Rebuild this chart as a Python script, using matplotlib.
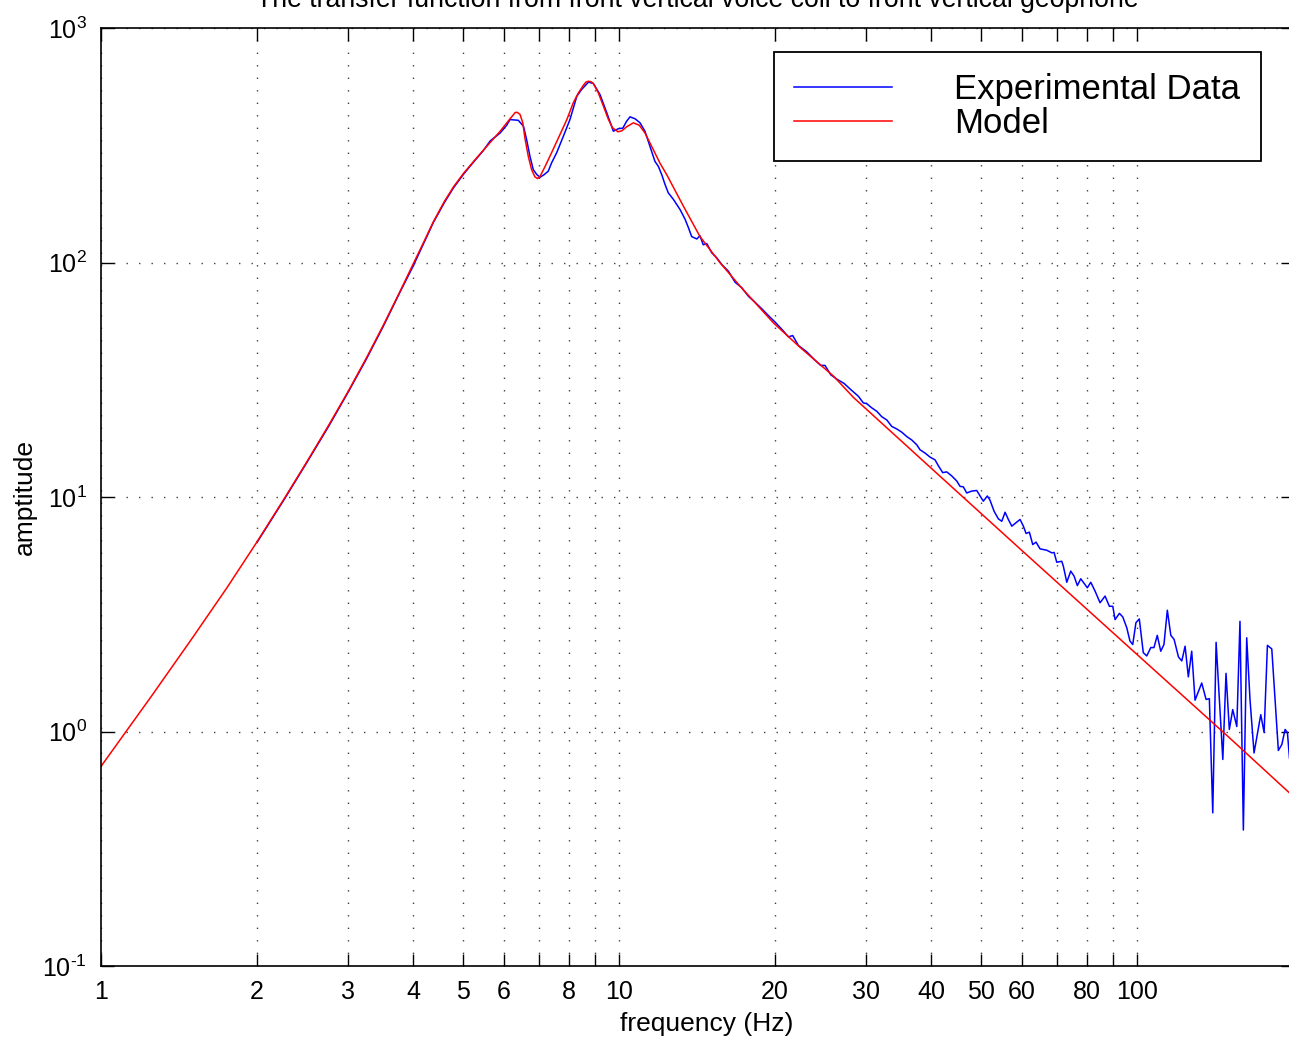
import matplotlib
matplotlib.use('Agg')
import matplotlib.pyplot as plt
from matplotlib.ticker import FixedLocator, FixedFormatter, NullLocator

plt.rcParams['font.family'] = ['Liberation Sans', 'DejaVu Sans']
plt.rcParams['mathtext.fontset'] = 'custom'
plt.rcParams['mathtext.rm'] = 'Liberation Sans'
plt.rcParams['mathtext.it'] = 'Liberation Sans:italic'
plt.rcParams['axes.unicode_minus'] = False

# model curve
model_freq = [1.0, 1.25, 1.5, 1.75, 2.0, 2.26, 2.5, 2.75, 3.0, 3.25, 3.5, 3.78, 4.0,
              4.2, 4.38, 4.6, 4.79, 5.01, 5.2, 5.39, 5.64, 5.89, 6.16, 6.25, 6.30,
              6.36, 6.44, 6.52, 6.58, 6.68, 6.78, 6.88, 6.96, 7.04, 7.20, 7.41, 7.69,
              7.93, 8.16, 8.35, 8.53, 8.63, 8.73, 8.83, 8.92, 9.12, 9.33, 9.54, 9.72,
              9.95, 10.12, 10.34, 10.66, 10.94, 11.22, 11.47, 12.0, 12.36, 13.31,
              14.33, 15.67, 17.13, 19.86, 22.35, 25.93, 28.34, 40, 60, 100, 150, 200]
model_amp = [0.71, 1.41, 2.50, 4.1, 6.43, 9.87, 14.2, 20.2, 28.2, 39, 53.5, 75.5, 98,
             122.5, 149, 182, 210, 240, 264.5, 290, 325, 362, 410, 426, 436,
             437, 428, 394, 340, 284, 249, 232, 228, 233, 257, 294, 351,
             407, 480, 529, 569, 588, 593, 590, 580, 529, 464, 407, 375,
             361, 364, 379, 394, 385, 357, 324, 265, 237, 174,
             129, 99.7, 79.2, 55.3, 43.5, 32.8, 26.6, 13.3, 5.9, 2.13, 0.95, 0.53]

# measured data
data_freq = [2.0, 2.26, 2.5, 2.75, 3.0, 3.25, 3.5, 3.78, 4.0, 4.2, 4.38, 4.6, 4.79,
             5.01, 5.2, 5.47, 5.64, 5.89,
             6.07, 6.16, 6.39, 6.54, 6.63, 6.73, 6.83, 6.94, 7.04, 7.17, 7.30, 7.41,
             7.58, 7.81, 8.04, 8.29, 8.47, 8.73, 8.92, 9.19, 9.47, 9.75, 9.97, 10.17,
             10.34, 10.50, 10.74, 10.98, 11.22, 11.47, 11.73, 11.91, 12.09, 12.27,
             12.45, 12.73, 13.12, 13.41, 13.61, 13.81, 14.13, 14.33, 14.54, 14.77,
             15.10, 15.44, 15.79, 16.26, 16.75, 17.26, 17.77, 18.30, 18.86, 19.42,
             20.01, 20.70, 21.23, 21.64, 22.19, 23.03, 23.90, 24.51, 24.98, 25.63,
             26.40, 27.19, 28.02, 28.97, 29.62, 30.08, 30.75, 31.45, 32.15, 32.88,
             33.61, 34.37, 35.14, 35.93, 36.74, 37.56, 38.11, 38.96, 39.84, 40.74,
             41.34, 42.16, 42.91, 43.88, 44.87, 45.53, 46.20, 46.90, 47.96, 49.04,
             49.77, 50.50, 51.4, 52.02, 52.96, 53.98, 54.81, 55.62, 56.44, 57.30,
             58.6, 59.45, 60.33, 61.06, 61.96, 62.90, 63.83, 64.97, 66.94, 68.45,
             69.16, 69.98, 71.55, 72.06, 73.17, 74.47, 75.58, 76.69, 77.86, 80.17,
             81.40, 82.97, 84.84, 86.74, 88.42, 89.77, 90.69, 92.46, 93.85, 95.53,
             96.9, 98.1, 99.5, 101.0, 102.8, 104.4, 106.3, 107.8, 109.4, 111.1,
             112.7, 114.4, 116.2, 117.9, 120.2, 122.0, 123.8, 125.6, 127.5, 129.4,
             133.3, 135.9, 137.9, 140.0, 142.1, 144.2, 146.4, 148.5, 150.7, 153.0,
             155.8, 158.0, 160.4, 162.8, 165.2, 168.2, 173.3, 175.9, 178.5, 182.0,
             187.4, 190.3, 193.1, 195.1, 196.9]
data_amp = [6.4, 9.8, 14.1, 20.0, 28.0, 38.6, 53, 75, 96, 121, 148, 180, 208,
            238, 263, 300, 330, 356,
            385, 407, 404, 381, 335, 284, 249, 237, 231, 237, 245, 266,
            294, 346, 407, 512, 547, 588, 580, 520, 435, 363, 372, 374,
            400, 418, 410, 394, 363, 313, 270, 257, 237, 215,
            198, 186, 168, 153, 141, 129, 126, 130, 119, 120.5,
            110, 104.7, 98, 91.8, 82.4, 78.0, 71.8, 67.7, 63.5, 59.4,
            55.7, 51.4, 48.2, 48.8, 44.3, 41.6, 38.3, 36.4, 36.4, 33.2,
            31.7, 30.5, 28.7, 26.9, 25.2, 25.0, 24.0, 23.2, 22.0, 21.3,
            20.0, 19.5, 18.9, 18.1, 17.5, 16.7, 15.9, 15.4, 14.8, 14.4,
            13.6, 12.7, 12.8, 12.3, 11.7, 11.1, 11.05, 10.4, 10.6, 10.66,
            10.1, 9.6, 10.1, 9.69, 8.70, 8.07, 7.88, 8.61, 8.02, 7.51,
            7.81, 8.02, 7.51, 6.99, 7.08, 6.27, 6.42, 6.01, 5.93, 5.78,
            5.80, 5.27, 5.32, 5.07, 4.33, 4.83, 4.60, 4.19, 4.48, 4.10,
            4.33, 3.97, 3.54, 3.78, 3.42, 3.42, 3.00, 3.19, 3.08, 2.77,
            2.43, 2.35, 2.91, 3.02, 2.17, 2.10, 2.28, 2.28, 2.57, 2.20,
            2.35, 3.29, 2.57, 2.47, 2.08, 2.00, 2.31, 1.71, 2.20, 1.36,
            1.61, 1.37, 1.38, 0.45, 2.40, 1.35, 0.76, 1.77, 1.02, 1.24,
            1.05, 2.95, 0.38, 2.51, 1.37, 0.81, 1.18, 0.99, 2.33, 2.25,
            0.83, 0.88, 1.02, 0.99, 0.77]

xticks = [1, 2, 3, 4, 5, 6, 7, 8, 9, 10, 20, 30, 40, 50, 60, 70, 80, 90, 100]
xticklabels = ['1', '2', '3', '4', '5', '6', '', '8', '', '10',
               '20', '30', '40', '50', '60', '', '80', '', '100']
yticks = [0.1, 1, 10, 100, 1000]
yticklabels = ['$10^{\u2010' + '1}$', '$10^{0}$', '$10^{1}$', '$10^{2}$', '$10^{3}$']

fig = plt.figure(figsize=(12.89, 10.42), dpi=100)
ax = fig.add_axes([101 / 1289, (1042 - 966) / 1042, 1192 / 1289, 938 / 1042])

ax.loglog(data_freq, data_amp, color='#0000ff', lw=1.1, label='Experimental Data')
ax.loglog(model_freq, model_amp, color='#ff0000', lw=1.1, label='Model')

ax.set_xlim(1, 200)
ax.set_ylim(0.1, 1000)

ax.xaxis.set_major_locator(FixedLocator(xticks))
ax.xaxis.set_major_formatter(FixedFormatter(xticklabels))
ax.xaxis.set_minor_locator(NullLocator())
ax.yaxis.set_major_locator(FixedLocator(yticks))
ax.yaxis.set_major_formatter(FixedFormatter(yticklabels))
ax.yaxis.set_minor_locator(NullLocator())

ax.tick_params(which='both', direction='in', top=True, right=True,
               length=9, width=1, labelsize=18)
ax.tick_params(axis='x', pad=10)
ax.tick_params(axis='y', pad=10)
for s in ax.spines.values():
    s.set_linewidth(1.2)

ax.grid(True, which='major', color='0.25', linestyle=(0, (1, 8)), linewidth=1.0)

ax.set_title('The transfer function from front vertical voice coil to front vertical geophone',
             fontsize=19.2, pad=15)
ax.set_xlabel('frequency (Hz)', fontsize=19)
ax.set_ylabel('amptitude', fontsize=19)
ax.xaxis.set_label_coords(0.508, -0.049)
ax.yaxis.set_label_coords(-0.054, 0.5)

leg = ax.legend(loc='upper right', bbox_to_anchor=(0.9732, 0.9744), borderaxespad=0,
                fontsize=25, fancybox=False, framealpha=1, edgecolor='k',
                handlelength=2.8, handletextpad=1.8, labelspacing=0.03, borderpad=0.6)
leg.get_frame().set_linewidth(1.3)

fig.savefig('out.png', dpi=100)
